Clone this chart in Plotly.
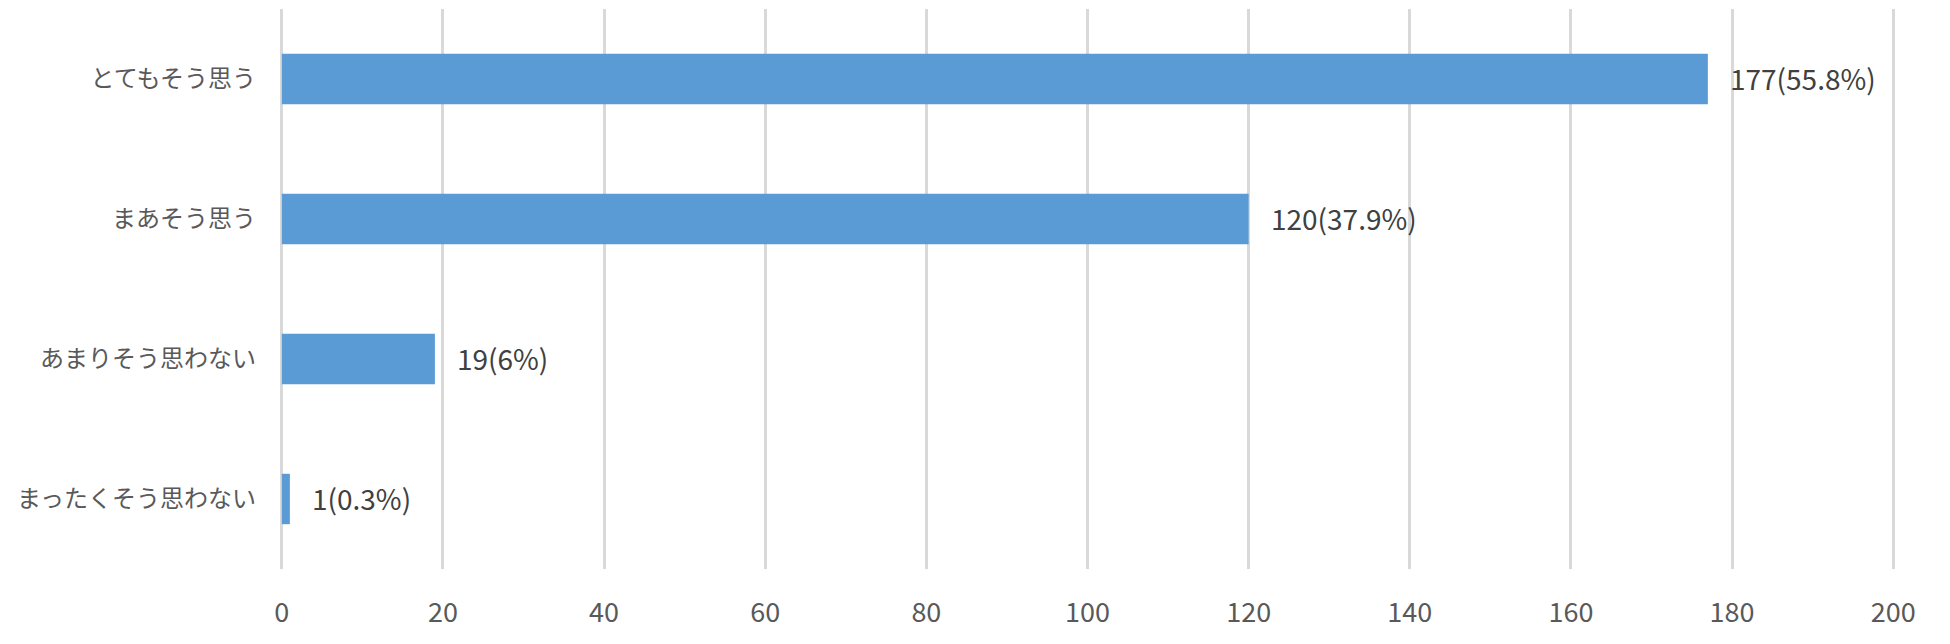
import plotly.graph_objects as go

categories = ["とてもそう思う", "まあそう思う", "あまりそう思わない", "まったくそう思わない"]
counts = [177, 120, 19, 1]
percents = ["55.8%", "37.9%", "6%", "0.3%"]
x_ticks = [0, 20, 40, 60, 80, 100, 120, 140, 160, 180, 200]

labels = [f"{c}({p})" for c, p in zip(counts, percents)]

fig = go.Figure()
fig.add_trace(go.Bar(
    x=counts,
    y=categories,
    orientation="h",
    marker=dict(color="#5B9BD5", line=dict(width=0)),
    width=0.36,
    hoverinfo="skip",
))

for c, cat, lab in zip(counts, categories, labels):
    fig.add_annotation(
        x=c, y=cat, text=lab, showarrow=False,
        xanchor="left", yanchor="middle", xshift=20, yshift=1,
        font=dict(family="Noto Sans CJK JP, Open Sans", size=28, color="#404040"),
    )

fig.update_layout(
    width=1950, height=644,
    margin=dict(l=271, r=62, t=1, b=83),
    paper_bgcolor="white",
    plot_bgcolor="white",
    showlegend=False,
    font=dict(family="Noto Sans CJK JP, Open Sans", color="#595959"),
)
fig.update_xaxes(
    range=[-0.35, 200.35],
    tickvals=x_ticks,
    showgrid=True, gridcolor="#D9D9D9", gridwidth=3,
    zeroline=False,
    showline=False,
    ticks="",
    ticklabelstandoff=25,
    tickfont=dict(size=27, color="#595959"),
)
fig.update_yaxes(
    autorange="reversed",
    showgrid=False,
    zeroline=False,
    showline=False,
    ticks="",
    ticklabelstandoff=22,
    tickfont=dict(size=24, color="#595959"),
)

fig.write_html("out.html")
